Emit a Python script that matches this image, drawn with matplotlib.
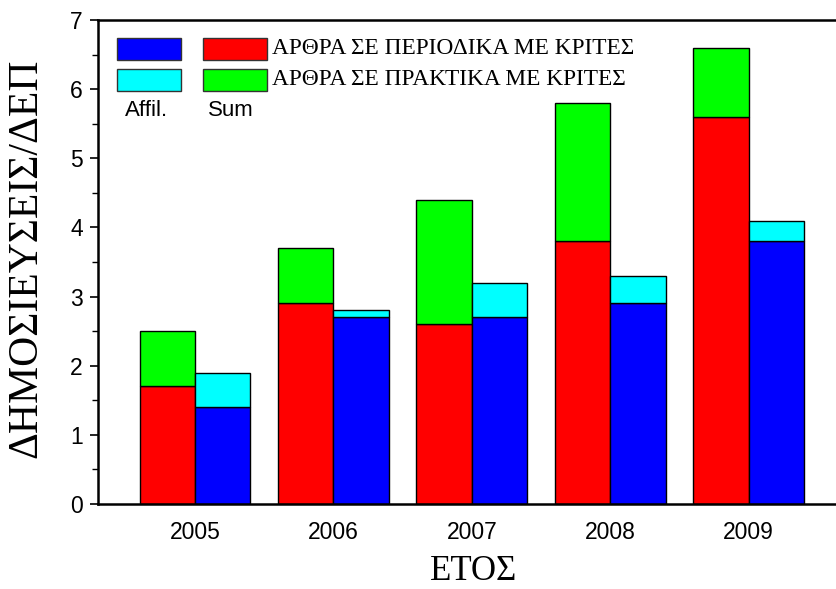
import matplotlib
matplotlib.use("Agg")
import matplotlib.pyplot as plt
from matplotlib.patches import Rectangle
from matplotlib.ticker import MultipleLocator
import numpy as np

years = [2005, 2006, 2007, 2008, 2009]
journals = [1.7, 2.9, 2.6, 3.8, 5.6]          # ΑΡΘΡΑ ΣΕ ΠΕΡΙΟΔΙΚΑ (Sum)
conferences = [0.8, 0.8, 1.8, 2.0, 1.0]       # ΑΡΘΡΑ ΣΕ ΠΡΑΚΤΙΚΑ (Sum)
journals_affil = [1.4, 2.7, 2.7, 2.9, 3.8]    # Affil.
conferences_affil = [0.5, 0.1, 0.5, 0.4, 0.3] # Affil.
yticks = [0, 1, 2, 3, 4, 5, 6, 7]

RED, GREEN, BLUE, CYAN = "#ff0000", "#00ff00", "#0000ff", "#00ffff"
W, H = 836, 589
fig = plt.figure(figsize=(W / 100, H / 100), dpi=100)

def fx(px):
    return px / W

def fy(py):
    return 1 - py / H

ax = fig.add_axes([fx(98), fy(504), fx(836) - fx(98), fy(20) - fy(504)])

x = np.array(years, dtype=float)
bw = 0.4
kw = dict(width=bw, edgecolor="black", linewidth=1.0)
ax.bar(x - bw / 2, journals, color=RED, **kw)
ax.bar(x - bw / 2, conferences, bottom=journals, color=GREEN, **kw)
ax.bar(x + bw / 2, journals_affil, color=BLUE, **kw)
ax.bar(x + bw / 2, conferences_affil, bottom=journals_affil, color=CYAN, **kw)

ax.set_xlim(2004.30, 2009.63)
ax.set_ylim(0, 7)
ax.set_xticks(years)
ax.set_xticklabels([str(y) for y in years], family="Liberation Sans", fontsize=16.5)
ax.set_yticks(yticks)
ax.set_yticklabels([str(t) for t in yticks], family="Liberation Sans", fontsize=16.5)
ax.yaxis.set_minor_locator(MultipleLocator(0.5))
ax.tick_params(axis="x", length=0, pad=12)
ax.tick_params(axis="y", which="major", direction="out", length=6, width=1.2, pad=5)
ax.tick_params(axis="y", which="minor", direction="out", length=4, width=1.0)
ax.spines["right"].set_visible(False)
for s in ["left", "bottom", "top"]:
    ax.spines[s].set_linewidth(1.8)

fig.text(fx(26), fy(258), "ΔΗΜΟΣΙΕΥΣΕΙΣ/ΔΕΠ", family="Liberation Serif",
         fontsize=30, rotation=90, va="center", ha="center")
fig.text(fx(474), fy(588), "ΕΤΟΣ", family="Liberation Serif", fontsize=25,
         va="bottom", ha="center")

# custom legend
def box(x0, y0, x1, y1, color):
    fig.add_artist(Rectangle((fx(x0), fy(y1)), fx(x1) - fx(x0), fy(y0) - fy(y1),
                             transform=fig.transFigure, facecolor=color,
                             edgecolor="#333333", linewidth=1.0))

box(117, 38, 181, 60, BLUE)
box(117, 69, 181, 91, CYAN)
box(203, 38, 267, 60, RED)
box(203, 69, 267, 91, GREEN)
fig.text(fx(272), fy(49), "ΑΡΘΡΑ ΣΕ ΠΕΡΙΟΔΙΚΑ ΜΕ ΚΡΙΤΕΣ", family="Liberation Serif",
         fontsize=16.8, va="center", ha="left")
fig.text(fx(272), fy(80), "ΑΡΘΡΑ ΣΕ ΠΡΑΚΤΙΚΑ ΜΕ ΚΡΙΤΕΣ", family="Liberation Serif",
         fontsize=16.8, va="center", ha="left")
fig.text(fx(147), fy(111), "Affil.", family="Liberation Sans", fontsize=16,
         va="center", ha="center")
fig.text(fx(231), fy(111), "Sum", family="Liberation Sans", fontsize=16,
         va="center", ha="center")

fig.savefig("out.png", dpi=100)
